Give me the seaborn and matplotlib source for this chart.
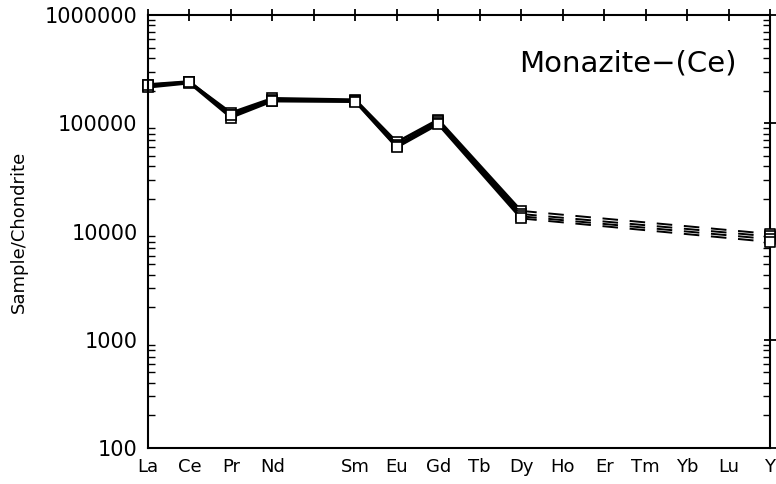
import numpy as np
import pandas as pd
import matplotlib
matplotlib.use("Agg")
import matplotlib.pyplot as plt
import seaborn as sns
from matplotlib.ticker import LogLocator, NullFormatter, FixedLocator

# ---- data ----
tick_labels = ['La', 'Ce', 'Pr', 'Nd', '', 'Sm', 'Eu', 'Gd', 'Tb', 'Dy',
               'Ho', 'Er', 'Tm', 'Yb', 'Lu', 'Y']
solid_elements = ['La', 'Ce', 'Pr', 'Nd', 'Sm', 'Eu', 'Gd', 'Dy']
dashed_elements = ['Dy', 'Y']

sample_1 = [225000, 240000, 125000, 170000, 165000, 67000, 108000, 15500, 9500]
sample_2 = [220000, 238000, 118000, 165000, 162000, 63000, 104000, 14500, 9000]
sample_3 = [215000, 235000, 113000, 160000, 160000, 61000, 100000, 13800, 8500]
sample_4 = [228000, 243000, 120000, 162000, 158000, 60000, 98000, 13200, 8000]
measured_elements = ['La', 'Ce', 'Pr', 'Nd', 'Sm', 'Eu', 'Gd', 'Dy', 'Y']
samples = {'S1': sample_1, 'S2': sample_2, 'S3': sample_3, 'S4': sample_4}

title_text = 'Monazite\u2212(Ce)'
ylabel_text = 'Sample/Chondrite'

# ---- build long table ----
pos = {lab: i for i, lab in enumerate(tick_labels) if lab}
rows = []
for name, vals in samples.items():
    for el, v in zip(measured_elements, vals):
        rows.append({'sample': name, 'element': el, 'x': pos[el], 'value': v})
df = pd.DataFrame(rows)

sns.set_theme(style='white')
plt.rcParams['font.family'] = ['DejaVu Sans']
plt.rcParams['text.color'] = 'black'
plt.rcParams['xtick.color'] = 'black'
plt.rcParams['ytick.color'] = 'black'
plt.rcParams['axes.labelcolor'] = 'black'

fig = plt.figure(figsize=(7.76, 4.84), dpi=100)
ax = fig.add_axes([148 / 776, 1 - 448 / 484, (770 - 148) / 776, (448 - 15) / 484])

solid = df[df['element'].isin(solid_elements)]
dashed = df[df['element'].isin(dashed_elements)]

sns.lineplot(data=dashed, x='x', y='value', units='sample', estimator=None,
             color='black', lw=1.4, dashes=False, ax=ax, legend=False,
             sort=True)
for ln in ax.get_lines():
    ln.set_dashes((8, 6))

sns.lineplot(data=solid, x='x', y='value', units='sample', estimator=None,
             color='black', lw=1.9, marker='s', markersize=7,
             markerfacecolor='white', markeredgecolor='black',
             markeredgewidth=1.2, ax=ax, legend=False, sort=True)
# Y-endpoint markers
sns.scatterplot(data=df[df['element'] == 'Y'], x='x', y='value', marker='s',
                s=45, facecolor='white', edgecolor='black', linewidth=1.2,
                ax=ax, legend=False, clip_on=False, zorder=5)
for ln in ax.get_lines():
    ln.set_clip_on(False)

ax.set_yscale('log')
ax.set_ylim(100, 1000000)
ax.set_xlim(0, len(tick_labels) - 1)
ax.xaxis.set_major_locator(FixedLocator(range(len(tick_labels))))
ax.set_xticklabels(tick_labels, fontsize=13)
ax.yaxis.set_minor_locator(LogLocator(base=10, subs=np.arange(2, 10), numticks=50))
ax.yaxis.set_minor_formatter(NullFormatter())
ax.set_yticks([100, 1000, 10000, 100000, 1000000])
ax.set_yticklabels(['100', '1000', '10000', '100000', '1000000'], fontsize=15)

ax.set_xlabel('')
ax.set_ylabel(ylabel_text, fontsize=13, labelpad=12)

for sp in ax.spines.values():
    sp.set_color('black')
    sp.set_linewidth(1.5)

ax.tick_params(axis='both', which='major', direction='inout', length=9,
               width=1.3, color='black', top=True, right=True, pad=3,
               labelcolor='black')
ax.tick_params(axis='y', which='minor', direction='in', length=5, width=1,
               color='black', left=True, right=True)
ax.tick_params(axis='y', which='major', right=True, labelright=False)
ax.grid(False)

ax.text(0.947, 0.889, title_text, transform=ax.transAxes, ha='right',
        va='center', fontsize=21, color='black')

fig.savefig('out.png', dpi=100)
